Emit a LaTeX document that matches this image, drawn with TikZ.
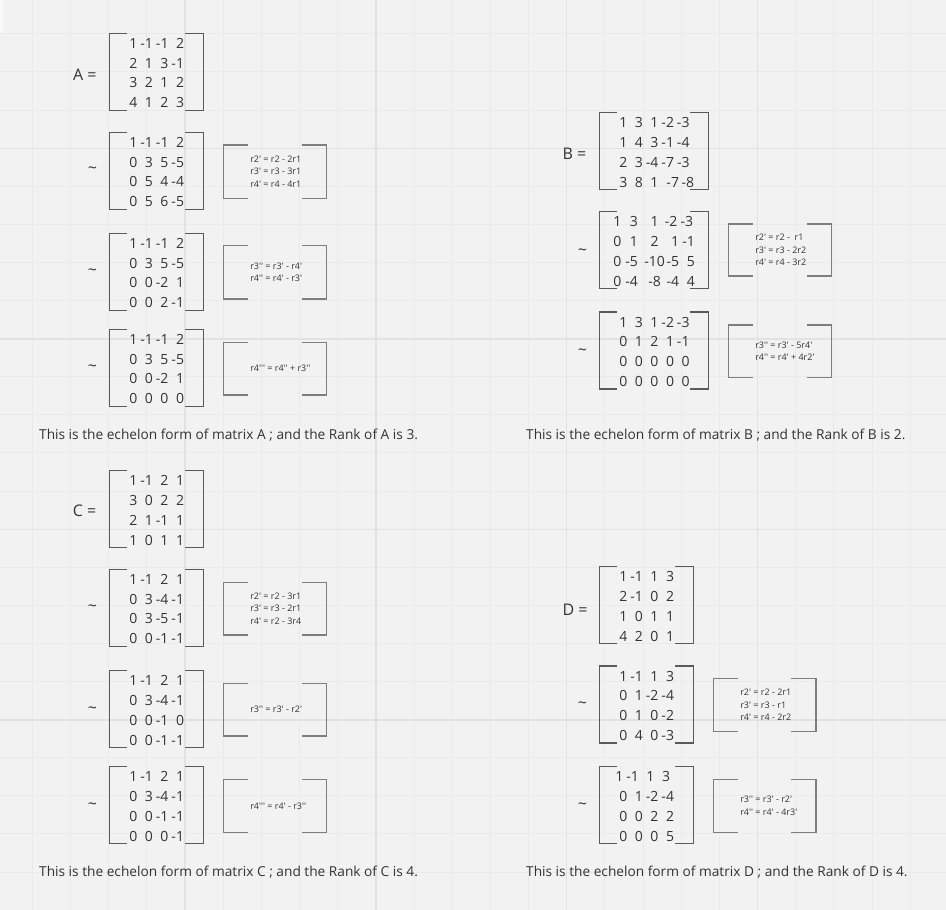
\documentclass[tikz,border=0pt]{standalone}
\usepackage{fontspec}
\setmainfont{Open Sans}[Ligatures=TeXOff]
\definecolor{bg}{HTML}{F2F2F2}
\definecolor{gminor}{HTML}{EAEAEA}
\definecolor{gmajor}{HTML}{E2E2E2}
\definecolor{txt}{HTML}{333333}
\definecolor{mcol}{HTML}{5A5A5A}
\definecolor{ocol}{HTML}{7E7E7E}
\tikzset{
  mline/.style={draw=mcol,line width=1.3pt},
  oline/.style={draw=ocol,line width=1.3pt},
  mtext/.style={anchor=base west,inner sep=0pt,text=txt,font=\fontsize{14}{16}\selectfont},
  otext/.style={anchor=west,inner sep=0pt,align=left,text=txt,font=\fontsize{9}{12.7}\selectfont},
  lbl/.style={anchor=base west,inner sep=0pt,text=txt,font=\fontsize{16}{18}\selectfont},
  tl/.style={inner sep=0pt,text=txt,font=\fontsize{16}{18}\selectfont},
  captxt/.style={anchor=base west,inner sep=0pt,text=txt,font=\fontsize{13.7}{16}\selectfont},
}
\newcommand\ce[1]{\makebox[15.5pt][r]{#1}}
\newcommand\mbr[3]{%
  \draw[mline] (#1+18,#2) -- (#1,#2) -- (#1,#2+77) -- (#1+18,#2+77);
  \draw[mline] (#1+#3-18,#2) -- (#1+#3,#2) -- (#1+#3,#2+77) -- (#1+#3-18,#2+77);}
\newcommand\mat[8]{%
  \mbr{#2}{#3}{#4}
  \node[mtext] (#1r1) at (#2+12.5,#3+15) {#5};
  \node[mtext] (#1r2) at (#2+12.5,#3+34.8) {#6};
  \node[mtext] (#1r3) at (#2+12.5,#3+54.6) {#7};
  \node[mtext] (#1r4) at (#2+12.5,#3+74.4) {#8};}
\newcommand\opbox[6]{%
  \draw[oline] (#2+25,#3) -- (#2,#3) -- (#2,#5) -- (#2+25,#5);
  \draw[oline] (#4-25,#3) -- (#4,#3) -- (#4,#5) -- (#4-25,#5);
  \node[otext] (#1) at (#2+26.8,{(#3+#5)/2}) {#6};}
\begin{document}
\begin{tikzpicture}[x=1pt,y=-1pt]
\useasboundingbox (0,0) rectangle (946,910);
\fill[bg] (0,0) rectangle (946,910);
\foreach \i in {0,...,24} {\draw[gminor,line width=1pt] (32.3+38.17*\i,0) -- (32.3+38.17*\i,910);}
\foreach \i in {0,...,23} {\draw[gminor,line width=1pt] (0,33.8+38.1*\i) -- (946,33.8+38.1*\i);}
\foreach \i in {0,...,4} {\draw[gmajor,line width=1.4pt] (185+190.85*\i,0) -- (185+190.85*\i,910);}
\foreach \i in {0,...,4} {\draw[gmajor,line width=1.4pt] (0,148.3+190.5*\i) -- (946,148.3+190.5*\i);}
\fill[white,opacity=0.6,rounded corners=1pt] (-2,-2) rectangle (3,33);

% ---------------- A ----------------
\node[lbl] (lA) at (73,80.7) {A =};
\mat{A0}{109.3}{33.3}{94}{\ce{1}\ce{-1}\ce{-1}\ce{2}}{\ce{2}\ce{1}\ce{3}\ce{-1}}{\ce{3}\ce{2}\ce{1}\ce{2}}{\ce{4}\ce{1}\ce{2}\ce{3}}
\node[tl] (tA1) at (92.5,170) {\textasciitilde};
\mat{A1}{109.3}{132.3}{94}{\ce{1}\ce{-1}\ce{-1}\ce{2}}{\ce{0}\ce{3}\ce{5}\ce{-5}}{\ce{0}\ce{5}\ce{4}\ce{-4}}{\ce{0}\ce{5}\ce{6}\ce{-5}}
\opbox{oA1}{223.3}{145}{326.7}{198.3}{r2' = r2 - 2r1\\r3' = r3 - 3r1\\r4' = r4 - 4r1}
\node[tl] (tA2) at (92.5,272) {\textasciitilde};
\mat{A2}{109.3}{233.3}{94}{\ce{1}\ce{-1}\ce{-1}\ce{2}}{\ce{0}\ce{3}\ce{5}\ce{-5}}{\ce{0}\ce{0}\ce{-2}\ce{1}}{\ce{0}\ce{0}\ce{2}\ce{-1}}
\opbox{oA2}{223.3}{245.7}{326.7}{299}{r3'' = r3' - r4'\\r4'' = r4' - r3'}
\node[tl] (tA3) at (92.5,368) {\textasciitilde};
\mat{A3}{109.3}{329.3}{94}{\ce{1}\ce{-1}\ce{-1}\ce{2}}{\ce{0}\ce{3}\ce{5}\ce{-5}}{\ce{0}\ce{0}\ce{-2}\ce{1}}{\ce{0}\ce{0}\ce{0}\ce{0}}
\opbox{oA3}{223.3}{342.3}{326.7}{395}{r4''' = r4'' + r3''}
\node[captxt] (capA) at (39,439.3) {This is the echelon form of matrix A ; and the Rank of A is 3.};

% ---------------- B ----------------
\node[lbl] (lB) at (562.4,159) {B =};
\mat{B0}{599.3}{112.7}{109}{\ce{1}\ce{3}\ce{1}\ce{-2}\ce{-3}}{\ce{1}\ce{4}\ce{3}\ce{-1}\ce{-4}}{\ce{2}\ce{3}\ce{-4}\ce{-7}\ce{-3}}{\ce{3}\ce{8}\ce{1}\makebox[20.5pt][r]{-7}\makebox[15pt][r]{-8}}
\node[tl] (tB1) at (582.5,251.7) {\textasciitilde};
\mbr{599.3}{211.7}{109}
\node[mtext] (B1r1) at (599.3,226.7) {\makebox[21.9pt][r]{1}\makebox[16.5pt][r]{3}\makebox[33.6pt][c]{1}\makebox[5.8pt][r]{-2}\makebox[15.7pt][r]{-3}};
\node[mtext] (B1r2) at (599.3,246.5) {\makebox[21.9pt][r]{0}\makebox[16.5pt][r]{1}\makebox[33.6pt][c]{2}\makebox[7.7pt][r]{1}\makebox[15.7pt][r]{-1}};
\node[mtext] (B1r3) at (599.3,266.3) {\makebox[21.9pt][r]{0}\makebox[16.5pt][r]{-5}\makebox[33.6pt][c]{-10}\makebox[7.7pt][r]{-5}\makebox[15.7pt][r]{5}};
\node[mtext] (B1r4) at (599.3,286.1) {\makebox[21.9pt][r]{0}\makebox[16.5pt][r]{-4}\makebox[33.6pt][c]{-8}\makebox[7.7pt][r]{-4}\makebox[15.7pt][r]{4}};
\opbox{oB1}{728.3}{224}{831.7}{276}{r2' = r2 -\ \ r1\\r3' = r3 - 2r2\\r4' = r4 - 3r2}
\node[tl] (tB2) at (582.5,351.7) {\textasciitilde};
\mat{B2}{599.3}{312}{109}{\ce{1}\ce{3}\ce{1}\ce{-2}\ce{-3}}{\ce{0}\ce{1}\ce{2}\ce{1}\ce{-1}}{\ce{0}\ce{0}\ce{0}\ce{0}\ce{0}}{\ce{0}\ce{0}\ce{0}\ce{0}\ce{0}}
\opbox{oB2}{728.3}{325}{831.7}{377.3}{r3'' = r3' - 5r4'\\r4'' = r4' + 4r2'}
\node[captxt] (capB) at (526,439.3) {This is the echelon form of matrix B ; and the Rank of B is 2.};

% ---------------- C ----------------
\node[lbl] (lC) at (72.7,516.7) {C =};
\mat{C0}{109.3}{470.7}{94}{\ce{1}\ce{-1}\ce{2}\ce{1}}{\ce{3}\ce{0}\ce{2}\ce{2}}{\ce{2}\ce{1}\ce{-1}\ce{1}}{\ce{1}\ce{0}\ce{1}\ce{1}}
\node[tl] (tC1) at (92.5,608) {\textasciitilde};
\mat{C1}{109.3}{569.3}{94}{\ce{1}\ce{-1}\ce{2}\ce{1}}{\ce{0}\ce{3}\ce{-4}\ce{-1}}{\ce{0}\ce{3}\ce{-5}\ce{-1}}{\ce{0}\ce{0}\ce{-1}\ce{-1}}
\opbox{oC1}{223.3}{582.3}{326.7}{635}{r2' = r2 - 3r1\\r3' = r3 - 2r1\\r4' = r2 - 3r4}
\node[tl] (tC2) at (92.5,710) {\textasciitilde};
\mat{C2}{109.3}{670.7}{94}{\ce{1}\ce{-1}\ce{2}\ce{1}}{\ce{0}\ce{3}\ce{-4}\ce{-1}}{\ce{0}\ce{0}\ce{-1}\ce{0}}{\ce{0}\ce{0}\ce{-1}\ce{-1}}
\opbox{oC2}{223.3}{683.3}{326.7}{736}{r3'' = r3' - r2'}
\node[tl] (tC3) at (92.5,805.7) {\textasciitilde};
\mat{C3}{109.3}{766.7}{94}{\ce{1}\ce{-1}\ce{2}\ce{1}}{\ce{0}\ce{3}\ce{-4}\ce{-1}}{\ce{0}\ce{0}\ce{-1}\ce{-1}}{\ce{0}\ce{0}\ce{0}\ce{-1}}
\opbox{oC3}{223.3}{779.3}{326.7}{832.3}{r4''' = r4' - r3''}
\node[captxt] (capC) at (39,876.3) {This is the echelon form of matrix C ; and the Rank of C is 4.};

% ---------------- D ----------------
\node[lbl] (lD) at (562.4,615) {D =};
\mat{D0}{599.3}{566.7}{94}{\ce{1}\ce{-1}\ce{1}\ce{3}}{\ce{2}\ce{-1}\ce{0}\ce{2}}{\ce{1}\ce{0}\ce{1}\ce{1}}{\ce{4}\ce{2}\ce{0}\ce{1}}
\node[tl] (tD1) at (582.5,705) {\textasciitilde};
\mat{D1}{599.3}{666}{94}{\ce{1}\ce{-1}\ce{1}\ce{3}}{\ce{0}\ce{1}\ce{-2}\ce{-4}}{\ce{0}\ce{1}\ce{0}\ce{-2}}{\ce{0}\ce{4}\ce{0}\ce{-3}}
\opbox{oD1}{713.3}{678.3}{816}{731.7}{r2' = r2 - 2r1\\r3' = r3 - r1\\r4' = r4 - 2r2}
\node[tl] (tD2) at (582.5,805.7) {\textasciitilde};
\mat{D2}{599.3}{766.7}{94}{\hspace*{-4pt}\ce{1}\ce{-1}\ce{1}\ce{3}}{\ce{0}\ce{1}\ce{-2}\ce{-4}}{\ce{0}\ce{0}\ce{2}\ce{2}}{\ce{0}\ce{0}\ce{0}\ce{5}}
\opbox{oD2}{713.3}{779.3}{816}{832.3}{r3'' = r3' - r2'\\r4'' = r4' - 4r3'}
\node[captxt] (capD) at (526,876.3) {This is the echelon form of matrix D ; and the Rank of D is 4.};
\end{tikzpicture}
\end{document}
